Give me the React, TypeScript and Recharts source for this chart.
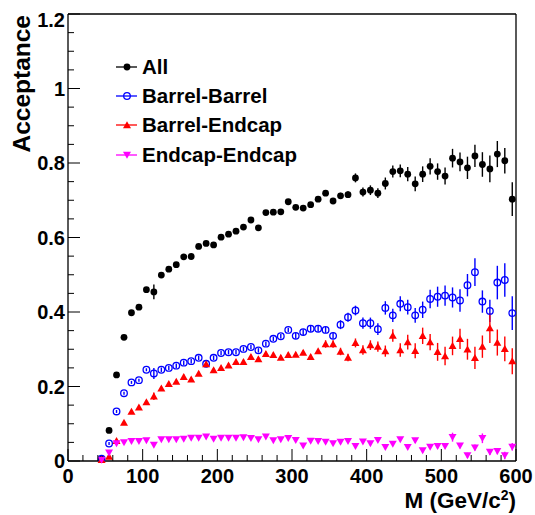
import React from "react";
import { ScatterChart, Scatter, XAxis, YAxis, ErrorBar, Legend } from "recharts";

// bin centres in GeV/c^2
const masses = [
  45, 55, 65, 75, 85, 95, 105, 115, 125, 135, 145, 155, 165, 175, 185, 195,
  205, 215, 225, 235, 245, 255, 265, 275, 285, 295, 305, 315, 325, 335, 345,
  355, 365, 375, 385, 395, 405, 415, 425, 435, 445, 455, 465, 475, 485, 495,
  505, 515, 525, 535, 545, 555, 565, 575, 585, 595,
];

const allAcc = [
  0.005, 0.082, 0.231, 0.332, 0.398, 0.413, 0.46, 0.454, 0.499, 0.515, 0.527,
  0.548, 0.549, 0.576, 0.584, 0.58, 0.601, 0.609, 0.617, 0.628, 0.647, 0.626,
  0.667, 0.668, 0.669, 0.696, 0.681, 0.679, 0.688, 0.703, 0.719, 0.698, 0.712,
  0.715, 0.76, 0.722, 0.727, 0.719, 0.745, 0.777, 0.779, 0.77, 0.744, 0.77,
  0.791, 0.777, 0.765, 0.813, 0.803, 0.787, 0.819, 0.796, 0.784, 0.824, 0.806,
  0.703,
];
const allErr = [
  0.004, 0.004, 0.004, 0.004, 0.004, 0.004, 0.004, 0.02, 0.005, 0.005, 0.005,
  0.005, 0.005, 0.005, 0.005, 0.005, 0.005, 0.005, 0.005, 0.005, 0.005, 0.005,
  0.005, 0.005, 0.005, 0.005, 0.005, 0.006, 0.006, 0.007, 0.007, 0.008, 0.008,
  0.009, 0.012, 0.012, 0.013, 0.013, 0.016, 0.016, 0.017, 0.019, 0.02, 0.021,
  0.022, 0.022, 0.023, 0.025, 0.025, 0.03, 0.03, 0.033, 0.036, 0.035, 0.034,
  0.045,
];

const bbAcc = [
  0.006, 0.047, 0.133, 0.182, 0.211, 0.217, 0.245, 0.235, 0.245, 0.25, 0.256,
  0.264, 0.268, 0.277, 0.261, 0.277, 0.29, 0.292, 0.292, 0.301, 0.306, 0.297,
  0.315, 0.328, 0.335, 0.352, 0.336, 0.346, 0.355, 0.355, 0.352, 0.336, 0.366,
  0.386, 0.404, 0.37, 0.37, 0.354, 0.411, 0.391, 0.422, 0.413, 0.391, 0.406,
  0.435, 0.441, 0.444, 0.439, 0.431, 0.472, 0.507, 0.428, 0.403, 0.479, 0.486,
  0.397,
];
const bbErr = [
  0.004, 0.004, 0.004, 0.004, 0.004, 0.004, 0.004, 0.015, 0.006, 0.006, 0.006,
  0.006, 0.006, 0.006, 0.006, 0.006, 0.006, 0.006, 0.006, 0.006, 0.006, 0.006,
  0.006, 0.006, 0.006, 0.006, 0.008, 0.008, 0.008, 0.008, 0.008, 0.008, 0.012,
  0.012, 0.013, 0.015, 0.015, 0.016, 0.018, 0.018, 0.02, 0.02, 0.02, 0.022,
  0.025, 0.027, 0.027, 0.027, 0.03, 0.03, 0.037, 0.03, 0.03, 0.045, 0.045,
  0.045,
];

const beAcc = [
  0.003, 0.012, 0.054, 0.103, 0.133, 0.144, 0.158, 0.174, 0.195, 0.207, 0.213,
  0.226, 0.219, 0.235, 0.26, 0.244, 0.25, 0.257, 0.266, 0.266, 0.28, 0.274,
  0.288, 0.285, 0.278, 0.285, 0.286, 0.291, 0.28, 0.295, 0.314, 0.314, 0.294,
  0.278, 0.317, 0.298, 0.311, 0.307, 0.295, 0.337, 0.298, 0.319, 0.296, 0.336,
  0.319, 0.293, 0.282, 0.309, 0.328, 0.3, 0.277, 0.307, 0.357, 0.318, 0.301,
  0.268,
];
const beErr = [
  0.003, 0.004, 0.004, 0.004, 0.004, 0.004, 0.004, 0.01, 0.006, 0.006, 0.006,
  0.006, 0.006, 0.006, 0.006, 0.006, 0.006, 0.006, 0.006, 0.006, 0.006, 0.006,
  0.006, 0.006, 0.006, 0.006, 0.006, 0.006, 0.006, 0.006, 0.01, 0.01, 0.01,
  0.01, 0.012, 0.013, 0.013, 0.014, 0.015, 0.017, 0.018, 0.02, 0.02, 0.022,
  0.022, 0.024, 0.025, 0.025, 0.027, 0.028, 0.03, 0.03, 0.04, 0.035, 0.033,
  0.035,
];

const eeAcc = [
  0.003, 0.022, 0.047, 0.05, 0.053, 0.053, 0.055, 0.043, 0.058, 0.058, 0.058,
  0.059, 0.062, 0.062, 0.065, 0.059, 0.062, 0.062, 0.062, 0.063, 0.061, 0.058,
  0.065, 0.055, 0.058, 0.061, 0.056, 0.041, 0.054, 0.053, 0.051, 0.047, 0.051,
  0.053, 0.04, 0.052, 0.047, 0.056, 0.037, 0.046, 0.058, 0.037, 0.055, 0.028,
  0.038, 0.04, 0.04, 0.064, 0.041, 0.015, 0.036, 0.061, 0.024, 0.026, 0.015,
  0.038,
];
const eeErr = [
  0.002, 0.004, 0.003, 0.003, 0.003, 0.003, 0.003, 0.003, 0.003, 0.003, 0.003,
  0.003, 0.003, 0.003, 0.003, 0.003, 0.003, 0.003, 0.003, 0.003, 0.003, 0.003,
  0.003, 0.003, 0.003, 0.003, 0.004, 0.004, 0.004, 0.004, 0.004, 0.004, 0.004,
  0.004, 0.004, 0.004, 0.005, 0.005, 0.005, 0.005, 0.005, 0.005, 0.006, 0.006,
  0.006, 0.006, 0.006, 0.012, 0.007, 0.007, 0.008, 0.013, 0.008, 0.008, 0.01,
  0.01,
];

const xTicks = [
  0, 20, 40, 60, 80, 100, 120, 140, 160, 180, 200, 220, 240, 260, 280, 300,
  320, 340, 360, 380, 400, 420, 440, 460, 480, 500, 520, 540, 560, 580, 600,
];
const yTicks = [
  0, 0.05, 0.1, 0.15, 0.2, 0.25, 0.3, 0.35, 0.4, 0.45, 0.5, 0.55, 0.6, 0.65,
  0.7, 0.75, 0.8, 0.85, 0.9, 0.95, 1, 1.05, 1.1, 1.15, 1.2,
];

const series = [
  { name: "All", color: "#000000", marker: "dot", acc: allAcc, err: allErr },
  { name: "Barrel-Barrel", color: "#0000ff", marker: "ring", acc: bbAcc, err: bbErr },
  { name: "Barrel-Endcap", color: "#ff0000", marker: "up", acc: beAcc, err: beErr },
  { name: "Endcap-Endcap", color: "#ff00ff", marker: "down", acc: eeAcc, err: eeErr },
];

const FONT = "'Liberation Sans', Arial, Helvetica, sans-serif";

function Marker({ cx, cy, kind, color }: any) {
  if (cx == null || cy == null) return null;
  if (kind === "dot") return <circle cx={cx} cy={cy} r={3.4} fill={color} />;
  if (kind === "ring")
    return <circle cx={cx} cy={cy} r={3.3} fill="none" stroke={color} strokeWidth={1.3} />;
  if (kind === "up")
    return <polygon points={`${cx - 4},${cy + 3.2} ${cx + 4},${cy + 3.2} ${cx},${cy - 3.8}`} fill={color} />;
  return <polygon points={`${cx - 4},${cy - 3.2} ${cx + 4},${cy - 3.2} ${cx},${cy + 3.8}`} fill={color} />;
}

// ROOT style ticks: inside the frame, long at labelled values
const BottomTick = ({ x, y, payload }: any) => {
  const major = payload.value % 100 === 0;
  return (
    <g>
      <line x1={x} y1={y} x2={x} y2={y - (major ? 12 : 6)} stroke="#000" />
      {major && (
        <text x={x} y={y + 22} textAnchor="middle" fontFamily={FONT} fontWeight="bold" fontSize={20} fill="#000">
          {payload.value}
        </text>
      )}
    </g>
  );
};

const TopTick = ({ x, y, payload }: any) => {
  const major = payload.value % 100 === 0;
  return <line x1={x} y1={y} x2={x} y2={y + (major ? 12 : 6)} stroke="#000" />;
};

const LeftTick = ({ x, y, payload }: any) => {
  const major = Math.round(payload.value * 100) % 20 === 0;
  const top = payload.value > 1.19;
  return (
    <g>
      <line x1={x} y1={y} x2={x + (major ? 12 : 6)} y2={y} stroke="#000" />
      {major && (
        <text x={x - 3} y={y + (top ? 6 : 0)} dy="0.36em" textAnchor="end" fontFamily={FONT} fontWeight="bold" fontSize={20} fill="#000">
          {String(Math.round(payload.value * 10) / 10)}
        </text>
      )}
    </g>
  );
};

const RightTick = ({ x, y, payload }: any) => {
  const major = Math.round(payload.value * 100) % 20 === 0;
  return <line x1={x} y1={y} x2={x - (major ? 12 : 6)} y2={y} stroke="#000" />;
};

const XTitle = ({ viewBox }: any) => (
  <text x={viewBox.x + viewBox.width} y={viewBox.y + 47} textAnchor="end" fontFamily={FONT} fontWeight="bold" fontSize={22.5} fill="#000">
    <tspan>M (GeV/c</tspan>
    <tspan dy={-8} fontSize={14}>2</tspan>
    <tspan dy={8}>)</tspan>
  </text>
);

const YTitle = ({ viewBox }: any) => (
  <text transform="rotate(-90)" x={-(viewBox.y + 1)} y={viewBox.x + viewBox.width - 38} textAnchor="end" fontFamily={FONT} fontWeight="bold" fontSize={24.5} fill="#000">
    Acceptance
  </text>
);

const LegendBox = () => (
  <div style={{ fontFamily: FONT, fontWeight: "bold", fontSize: 20.5, color: "#000" }}>
    {series.map((s) => (
      <div key={s.name} style={{ display: "flex", alignItems: "center", height: 29.3 }}>
        <svg width={26} height={20} style={{ display: "block" }}>
          <line x1={2} y1={10} x2={23} y2={10} stroke={s.color} strokeWidth={1.3} />
          <Marker cx={13} cy={10} kind={s.marker} color={s.color} />
        </svg>
        <span style={{ marginLeft: 2, whiteSpace: "nowrap" }}>{s.name}</span>
      </div>
    ))}
  </div>
);

const frame = { stroke: "#000", strokeWidth: 1.3 };

export default function App() {
  return (
    <div style={{ width: 535, height: 515, background: "#fff", overflow: "hidden" }}>
      <style>{`body{margin:0;}`}</style>
      <ScatterChart width={535} height={515} margin={{ top: 13, right: 18, bottom: 53, left: 67 }}>
        <XAxis
          xAxisId="b"
          dataKey="m"
          type="number"
          domain={[0, 600]}
          ticks={xTicks}
          interval={0}
          height={1}
          tickSize={0}
          tickMargin={0}
          tickLine={false}
          axisLine={frame}
          tick={BottomTick}
          label={{ content: XTitle }}
        />
        <XAxis
          xAxisId="t"
          orientation="top"
          type="number"
          domain={[0, 600]}
          ticks={xTicks}
          interval={0}
          height={1}
          tickSize={0}
          tickMargin={0}
          tickLine={false}
          axisLine={frame}
          tick={TopTick}
        />
        <YAxis
          yAxisId="l"
          dataKey="v"
          type="number"
          domain={[0, 1.2]}
          ticks={yTicks}
          interval={0}
          width={1}
          tickSize={0}
          tickMargin={0}
          tickLine={false}
          axisLine={frame}
          tick={LeftTick}
          label={{ content: YTitle }}
        />
        <YAxis
          yAxisId="r"
          orientation="right"
          type="number"
          domain={[0, 1.2]}
          ticks={yTicks}
          interval={0}
          width={1}
          tickSize={0}
          tickMargin={0}
          tickLine={false}
          axisLine={frame}
          tick={RightTick}
        />
        <Legend
          layout="vertical"
          align="center"
          verticalAlign="middle"
          content={<LegendBox />}
          wrapperStyle={{ position: "absolute", left: 114, top: 52, width: 230 }}
        />
        {series.map((s) => (
          <Scatter
            key={s.name}
            name={s.name}
            xAxisId="b"
            yAxisId="l"
            data={masses.map((m, i) => ({ m, v: s.acc[i], err: s.err[i] }))}
            fill={s.color}
            isAnimationActive={false}
            shape={(p: any) => <Marker cx={p.cx} cy={p.cy} kind={s.marker} color={s.color} />}
          >
            <ErrorBar dataKey="err" direction="y" width={0} stroke={s.color} strokeWidth={1.4} isAnimationActive={false} />
          </Scatter>
        ))}
      </ScatterChart>
    </div>
  );
}
